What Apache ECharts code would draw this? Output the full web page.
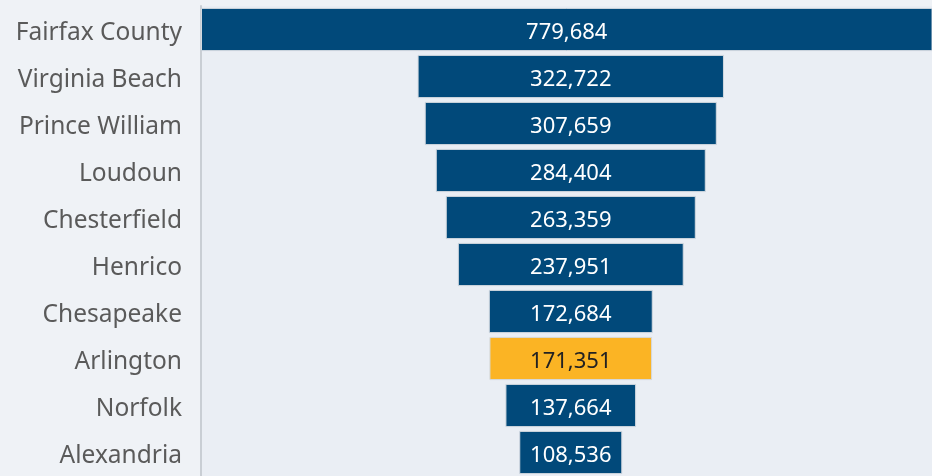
<!DOCTYPE html>
<html>
<head>
<meta charset="utf-8">
<script src="https://cdn.jsdelivr.net/npm/echarts@6/dist/echarts.min.js"></script>
<style>
  html, body { margin: 0; padding: 0; background: #eff2f6; }
  #chart { width: 932px; height: 476px; }
</style>
</head>
<body>
<div id="chart"></div>
<script>
  // counties, top to bottom
  var counties = ['Fairfax County', 'Virginia Beach', 'Prince William', 'Loudoun', 'Chesterfield',
    'Henrico', 'Chesapeake', 'Arlington', 'Norfolk', 'Alexandria']
  var population = [779684, 322722, 307659, 284404, 263359, 237951, 172684, 171351, 137664, 108536]
  var highlight = 'Arlington'

  var center = 389500 // funnel centre line on the value axis
  var axisMax = 770000

  // invisible spacer so every bar is centred
  var spacer = population.map(function (v) { return Math.max(0, center - v / 2) })

  var chart = echarts.init(document.getElementById('chart'))
  chart.setOption({
    backgroundColor: '#eff2f6',
    animation: false,
    grid: {
      left: 201,
      right: 0,
      top: 6,
      bottom: -5,
      show: true,
      backgroundColor: '#eaeef4',
      borderWidth: 0
    },
    xAxis: {
      type: 'value',
      min: 0,
      max: axisMax,
      show: false
    },
    yAxis: {
      type: 'category',
      data: counties,
      inverse: true,
      axisTick: { show: false },
      axisLine: { show: true, lineStyle: { color: '#c9ced4', width: 2 } },
      axisLabel: {
        margin: 19,
        formatter: function (v) { return '{n|' + v + '}' },
        rich: {
          n: {
            fontSize: 24.5,
            fontFamily: 'Noto Sans',
            color: '#5a5a5a',
            padding: [8, 0, 0, 0]
          }
        }
      }
    },
    series: [{
      type: 'bar',
      stack: 'funnel',
      data: spacer,
      itemStyle: { color: 'transparent' },
      silent: true
    }, {
      type: 'bar',
      stack: 'funnel',
      barCategoryGap: '8%',
      data: population.map(function (v, i) {
        var hot = counties[i] === highlight
        return {
          value: v,
          itemStyle: { color: hot ? '#fbb424' : '#01497a' },
          label: { color: hot ? '#222222' : '#ffffff' }
        }
      }),
      itemStyle: { borderColor: '#d3d9e0', borderWidth: 1 },
      label: {
        show: true,
        position: 'inside',
        offset: [0, 3],
        fontSize: 22,
        fontFamily: 'Noto Sans',
        formatter: function (p) { return p.value.toLocaleString('en-US') }
      }
    }]
  })
</script>
</body>
</html>
